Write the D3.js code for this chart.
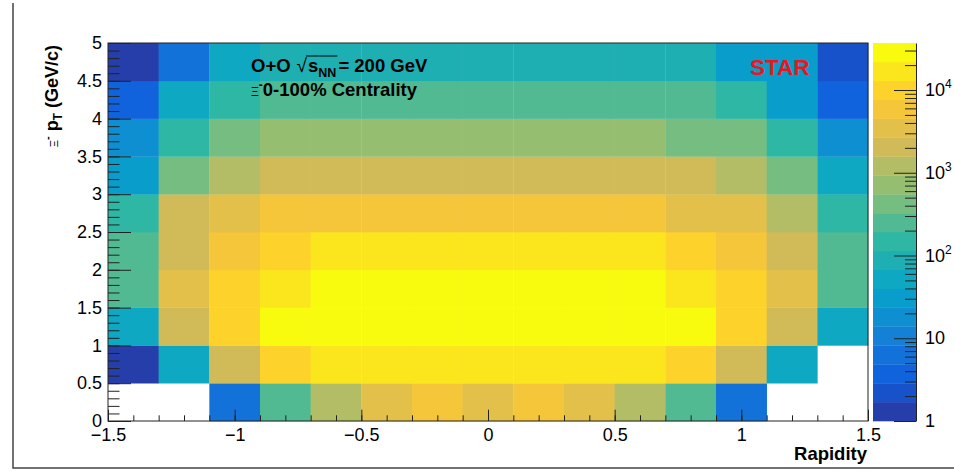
<!DOCTYPE html>
<html>
<head>
<meta charset="utf-8">
<script src="https://cdn.jsdelivr.net/npm/d3@7"></script>
<style>
  body { margin: 0; background: #fff; }
  text { font-family: "Liberation Sans", Arial, Helvetica, sans-serif; fill: #000; }
</style>
</head>
<body>
<script>
const rapidityEdges = [-1.5, -1.3, -1.1, -0.9, -0.7, -0.5, -0.3, -0.1, 0.1, 0.3, 0.5, 0.7, 0.9, 1.1, 1.3, 1.5];
const ptEdges = [0, 0.5, 1, 1.5, 2, 2.5, 3, 3.5, 4, 4.5, 5];

// one row per pT bin (from low pT up), one entry per rapidity bin
const counts = [
  [0, 0, 6, 250, 1200, 3400, 5800, 3500, 5900, 3400, 1200, 260, 6, 0, 0],
  [1, 50, 2000, 9800, 16500, 17000, 17200, 17000, 17100, 16800, 16400, 9700, 2100, 52, 0],
  [52, 2000, 9900, 27000, 28500, 29500, 30000, 30500, 30000, 29500, 28500, 27000, 9800, 2000, 50],
  [250, 3500, 9900, 16800, 27500, 28000, 28500, 29000, 28500, 28000, 27500, 16800, 9800, 3400, 250],
  [250, 2000, 5900, 9900, 16500, 17000, 17500, 17800, 17500, 17000, 16500, 9900, 5800, 2050, 245],
  [150, 2000, 3500, 5900, 6000, 6100, 6200, 6200, 6100, 6000, 5900, 3500, 3400, 1200, 150],
  [31, 420, 1200, 2000, 2050, 2100, 2100, 2150, 2100, 2100, 2050, 2000, 1200, 420, 52],
  [18, 150, 420, 720, 730, 740, 750, 750, 740, 740, 730, 420, 420, 150, 18],
  [4, 52, 150, 250, 255, 260, 262, 265, 262, 260, 255, 250, 150, 31, 4],
  [1, 6, 52, 87, 88, 89, 90, 90, 90, 89, 88, 87, 31, 31, 2]
];

const xTicks = [-1.5, -1, -0.5, 0, 0.5, 1, 1.5];
const yTicks = [0, 0.5, 1, 1.5, 2, 2.5, 3, 3.5, 4, 4.5, 5];
const zTicks = [1, 10, 100, 1000, 10000];
const zTickLabels = [["1", ""], ["10", ""], ["10", "2"], ["10", "3"], ["10", "4"]];

// ROOT kBird palette stops
const birdStops = ["#352a87", "#0f5cdd", "#1481d6", "#06a4ca", "#2eb7a4", "#87bf77", "#d1bb59", "#fec832", "#f9fb0e"];
const zMax = 37000, nContours = 20;

const width = 954, height = 471;
const plotL = 108, plotR = 868, plotT = 43, plotB = 421;
const labelSize = 18;

const svg = d3.select("body").append("svg")
    .attr("width", width)
    .attr("height", height);

const x = d3.scaleLinear().domain([-1.5, 1.5]).range([plotL, plotR]);
const y = d3.scaleLinear().domain([0, 5]).range([plotB, plotT]);
const palette = d3.piecewise(d3.interpolateRgb, birdStops);
const band = d3.scaleLog().domain([1, zMax]).range([0, nContours]);
const bandColor = i => palette((i + 0.99) / nContours);
const cellColor = v => bandColor(Math.max(0, Math.min(nContours - 1, Math.floor(band(v) + 1e-9))));

// canvas border
svg.append("path")
    .attr("d", "M13,3V468H954")
    .attr("fill", "none")
    .attr("stroke", "#444")
    .attr("stroke-width", 1.5);

// cells
const cells = [];
counts.forEach((row, j) => row.forEach((v, i) => {
  if (v > 0) cells.push({ x0: rapidityEdges[i], x1: rapidityEdges[i + 1], y0: ptEdges[j], y1: ptEdges[j + 1], v });
}));

svg.append("g").selectAll("rect")
  .data(cells)
  .join("rect")
    .attr("x", d => x(d.x0))
    .attr("y", d => y(d.y1))
    .attr("width", d => x(d.x1) - x(d.x0) + 0.3)
    .attr("height", d => y(d.y0) - y(d.y1) + 0.3)
    .attr("fill", d => cellColor(d.v));

// frame
svg.append("rect")
    .attr("x", plotL).attr("y", plotT)
    .attr("width", plotR - plotL).attr("height", plotB - plotT)
    .attr("fill", "none")
    .attr("stroke", "#222")
    .attr("stroke-width", 1);

const fmt = d3.format("~g");

// x axis: ticks point up into the frame
const xMinor = d3.range(-15, 16).map(k => k / 10);
svg.append("g")
    .attr("transform", `translate(0,${plotB})`)
    .call(d3.axisBottom(x).tickValues(xMinor).tickFormat("").tickSizeInner(-5.7).tickSizeOuter(0))
    .call(g => g.select(".domain").remove());
svg.append("g")
    .attr("transform", `translate(0,${plotB})`)
    .call(d3.axisBottom(x).tickValues(xTicks).tickFormat(fmt).tickSizeInner(-11.3).tickSizeOuter(0).tickPadding(7))
    .call(g => g.select(".domain").remove())
    .call(g => g.selectAll("text").attr("font-size", labelSize).attr("font-family", "Liberation Sans, Arial, sans-serif"));

// y axis: ticks point right into the frame
const yMinor = d3.range(0, 51).map(k => k / 10);
svg.append("g")
    .attr("transform", `translate(${plotL},0)`)
    .call(d3.axisLeft(y).tickValues(yMinor).tickFormat("").tickSizeInner(-11.5).tickSizeOuter(0))
    .call(g => g.select(".domain").remove());
svg.append("g")
    .attr("transform", `translate(${plotL},0)`)
    .call(d3.axisLeft(y).tickValues(yTicks).tickFormat(fmt).tickSizeInner(-23).tickSizeOuter(0).tickPadding(6))
    .call(g => g.select(".domain").remove())
    .call(g => g.selectAll("text").attr("font-size", labelSize).attr("font-family", "Liberation Sans, Arial, sans-serif"));

svg.selectAll(".tick line").attr("stroke", "#222");

// axis titles
svg.append("text")
    .attr("x", plotR - 1).attr("y", 460)
    .attr("text-anchor", "end")
    .attr("font-size", 18.5).attr("font-weight", "bold")
    .text("Rapidity");

const yTitle = svg.append("text")
    .attr("transform", `translate(58,${plotT + 2}) rotate(-90)`)
    .attr("text-anchor", "end")
    .attr("font-size", 18).attr("font-weight", "bold");
yTitle.append("tspan").attr("font-size", 11).attr("font-weight", "normal").text("Ξ");
yTitle.append("tspan").attr("font-size", 11).attr("dy", -7).text("-");
yTitle.append("tspan").attr("dy", 7).text(" p");
yTitle.append("tspan").attr("font-size", 12).attr("dy", 4).text("T");
yTitle.append("tspan").attr("dy", -4).text(" (GeV/c)");

// colour bar
const z = d3.scaleLog().domain([1, zMax]).range([plotB, plotT]);
const barX = 873, barW = 43;
const step = Math.log10(zMax) / nContours;
svg.append("g").selectAll("rect")
  .data(d3.range(nContours))
  .join("rect")
    .attr("x", barX)
    .attr("y", i => z(Math.pow(10, (i + 1) * step)))
    .attr("width", barW)
    .attr("height", i => z(Math.pow(10, i * step)) - z(Math.pow(10, (i + 1) * step)) + 0.3)
    .attr("fill", i => bandColor(i));

const zMinor = [];
[1, 10, 100, 1000, 10000].forEach(d => [2, 3, 4, 5, 6, 7, 8, 9].forEach(k => { if (k * d < zMax) zMinor.push(k * d); }));
svg.append("g")
    .attr("transform", `translate(${barX + barW},0)`)
    .call(d3.axisRight(z).tickValues(zMinor).tickFormat("").tickSizeInner(-11).tickSizeOuter(0))
    .call(g => g.select(".domain").attr("stroke", "#222"));
svg.append("g")
    .attr("transform", `translate(${barX + barW},0)`)
    .call(d3.axisRight(z).tickValues(zTicks).tickFormat("").tickSizeInner(-22).tickSizeOuter(0))
    .call(g => g.select(".domain").remove());
svg.selectAll(".tick line").attr("stroke", "#222");

const zLab = svg.append("g").selectAll("text")
  .data(zTicks)
  .join("text")
    .attr("x", barX + barW + 9)
    .attr("y", d => z(d) + 6)
    .attr("font-size", 18);
zLab.append("tspan").text((d, i) => zTickLabels[i][0]);
zLab.append("tspan").attr("font-size", 12).attr("dy", -8).text((d, i) => zTickLabels[i][1]);

// annotations
function line(xs, ys, parts) {
  let cx = xs;
  const out = [];
  parts.forEach(p => {
    const t = svg.append("text")
        .attr("x", cx).attr("y", ys + (p.dy || 0))
        .attr("font-size", p.size || 18.5)
        .attr("font-weight", p.weight || "bold")
        .text(p.t);
    const w = t.node().getComputedTextLength();
    out.push({ x: cx, w });
    cx += w + (p.gap || 0);
  });
  return out;
}

const l1 = line(251, 72, [
  { t: "O+O", gap: 6 },
  { t: "√", weight: "normal", size: 19, gap: 1 },
  { t: "s" },
  { t: "NN", size: 12.5, dy: 5, gap: 2 },
  { t: "= 200 GeV" }
]);
svg.append("line")
    .attr("x1", l1[1].x + l1[1].w - 1).attr("x2", l1[3].x + l1[3].w + 1)
    .attr("y1", 56).attr("y2", 56)
    .attr("stroke", "#000").attr("stroke-width", 1);

line(251, 96, [
  { t: "Ξ", weight: "normal", size: 12 },
  { t: "-", size: 12, dy: -7 },
  { t: " 0-100% Centrality" }
]);

svg.append("text")
    .attr("x", 750).attr("y", 75)
    .attr("font-size", 22.5).attr("font-weight", "bold")
    .style("fill", "#ec1520")
    .text("STAR");
</script>
</body>
</html>
